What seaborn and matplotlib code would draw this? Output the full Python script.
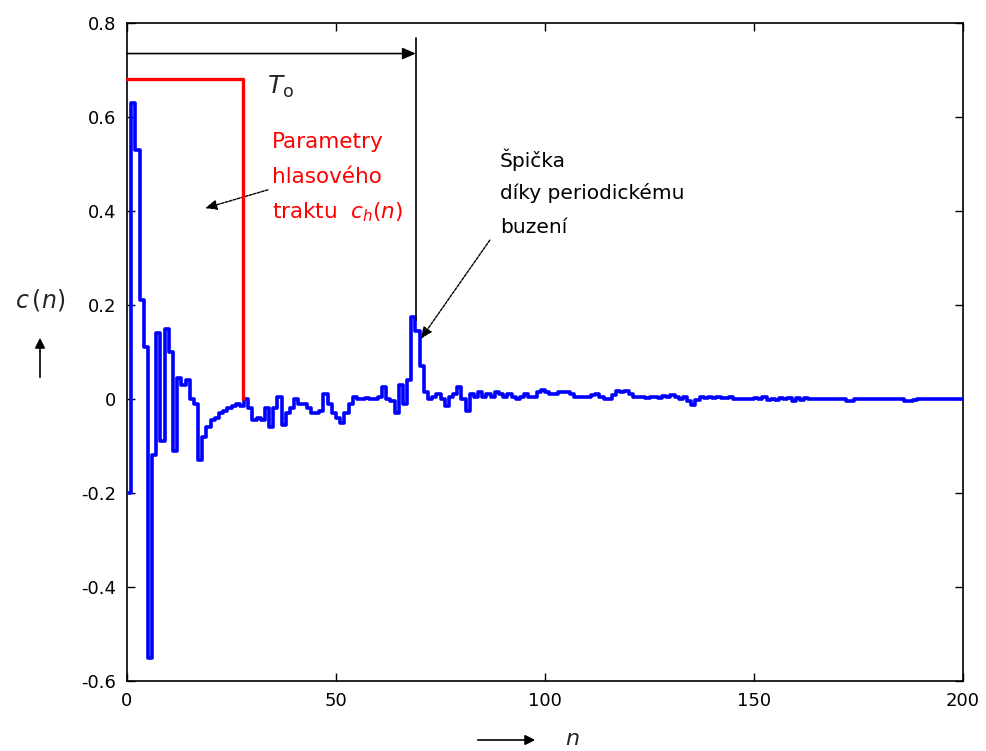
import numpy as np
import pandas as pd
import matplotlib
matplotlib.use("Agg")
import matplotlib.pyplot as plt
import seaborn as sns

# Cepstrum c(n) of a voiced speech frame, sample index n = 0..200
n_idx = list(range(0, 201))
c_vals = [
    -0.20, 0.63, 0.53, 0.21, 0.11, -0.55, -0.12, 0.14, -0.09, 0.15,
    0.10, -0.11, 0.045, 0.03, 0.04, 0.0, -0.01, -0.13, -0.08, -0.06,
    -0.045, -0.04, -0.03, -0.025, -0.02, -0.015, -0.01, -0.015, 0.0, -0.02,
    -0.045, -0.04, -0.045, -0.02, -0.06, -0.02, 0.005, -0.055, -0.03, -0.02,
    0.0, -0.01, -0.01, -0.02, -0.03, -0.03, -0.025, 0.01, -0.01, -0.03,
    -0.04, -0.05, -0.03, -0.01, 0.005, 0.0, 0.0, 0.002, 0.0, 0.0,
    0.005, 0.025, 0.0, -0.005, -0.03, 0.03, -0.01, 0.04, 0.175, 0.145,
    0.07, 0.015, 0.0, 0.005, 0.01, 0.0, -0.015, 0.005, 0.01, 0.025,
    0.0, -0.025, 0.01, 0.005, 0.015, 0.005, 0.01, 0.005, 0.015, 0.01,
    0.005, 0.01, 0.005, 0.0, 0.005, 0.01, 0.005, 0.005, 0.015, 0.02,
    0.015, 0.01, 0.01, 0.015, 0.014, 0.015, 0.01, 0.005, 0.005, 0.005,
    0.005, 0.008, 0.01, 0.005, 0.0, 0.0, 0.008, 0.017, 0.015, 0.017,
    0.01, 0.005, 0.005, 0.005, 0.003, 0.005, 0.005, 0.003, 0.006, 0.005,
    0.008, 0.005, 0.0, 0.005, -0.005, -0.012, -0.002, 0.005, 0.003, 0.005,
    0.002, 0.005, 0.002, 0.002, 0.005, 0.001, 0.001, 0.0, 0.0, 0.0,
    0.002, 0.0, 0.004, -0.002, 0.0, -0.003, 0.003, 0.0, 0.003, -0.004,
    0.003, -0.003, 0.002, 0.0, 0.0, 0.0, 0.0, 0.0, 0.0, 0.0,
    0.0, 0.0, -0.005, -0.004, 0.0, 0.0, 0.0, 0.0, 0.0, 0.0,
    0.0, 0.0, 0.0, 0.0, 0.0, 0.0, -0.004, -0.005, -0.003, 0.0,
    0.0, 0.0, 0.0, 0.0, 0.0, 0.0, 0.0, 0.0, 0.0, 0.0, 0.0,
]

x_ticks = [0, 50, 100, 150, 200]
y_ticks = [-0.6, -0.4, -0.2, 0, 0.2, 0.4, 0.6, 0.8]
y_tick_labels = ["-0.6", "-0.4", "-0.2", "0", "0.2", "0.4", "0.6", "0.8"]

# Vocal-tract window (lifter) and pitch period
lifter_len = 27.8
lifter_level = 0.68
pitch_period = 69.1

sns.set_style("white")
plt.rcParams["font.family"] = ["DejaVu Sans"]
plt.rcParams["mathtext.fontset"] = "dejavusans"

fig = plt.figure(figsize=(9.87, 7.51), dpi=100)
ax = fig.add_axes([127 / 987, 1 - 681 / 751, (963 - 127) / 987, (681 - 23) / 751])

df = pd.DataFrame({"n": n_idx, "c": c_vals})
sns.lineplot(data=df, x="n", y="c", ax=ax, color="#0000ff", linewidth=2.6,
             drawstyle="steps-post", estimator=None, zorder=3)

ax.set_xlim(0, 200)
ax.set_ylim(-0.6, 0.8)
ax.set_xticks(x_ticks)
ax.set_xticklabels([str(t) for t in x_ticks])
ax.set_yticks(y_ticks)
ax.set_yticklabels(y_tick_labels)
ax.set_xlabel("")
ax.set_ylabel("")
ax.tick_params(direction="in", length=6, width=1, top=True, right=True,
               bottom=True, left=True, labelsize=13, colors="black", pad=8)
for sp in ax.spines.values():
    sp.set_color("black")
    sp.set_linewidth(1.2)
    sp.set_visible(True)

# Lifter window for the vocal-tract part
ax.plot([0, lifter_len, lifter_len], [lifter_level, lifter_level, 0.0],
        color="#ff0000", linewidth=2.4, zorder=4, clip_on=False)

# Pitch period marker
ax.plot([pitch_period, pitch_period], [0.768, 0.168], color="black", linewidth=1.2, zorder=4)
ax.annotate("", xy=(pitch_period, 0.735), xytext=(0, 0.735),
            arrowprops=dict(arrowstyle="-|>,head_length=0.8,head_width=0.35",
                            color="black", lw=1.2, shrinkA=0, shrinkB=0))
ax.text(33.5, 0.664, r"$T_{\mathrm{o}}$", fontsize=18, ha="left", va="center")

# Annotation for vocal-tract parameters
red_lines = ["Parametry", "hlasového", r"traktu  $c_h(n)$"]
red_y = [0.547, 0.472, 0.398]
for txt, yy in zip(red_lines, red_y):
    ax.text(34.7, yy, txt, color="#ff0000", fontsize=15.5, ha="left", va="center")
ax.annotate("", xy=(18.7, 0.406), xytext=(33.7, 0.445),
            arrowprops=dict(arrowstyle="-|>,head_length=0.7,head_width=0.3",
                            color="black", lw=1.0, linestyle=(0, (2, 1)),
                            shrinkA=0, shrinkB=0))

# Annotation for the pitch peak
peak_lines = ["Špička", "díky periodickému", "buzení"]
peak_y = [0.509, 0.438, 0.364]
for txt, yy in zip(peak_lines, peak_y):
    ax.text(89.2, yy, txt, color="black", fontsize=14.5, ha="left", va="center")
ax.annotate("", xy=(70.3, 0.128), xytext=(86.8, 0.338),
            arrowprops=dict(arrowstyle="-|>,head_length=0.7,head_width=0.3",
                            color="black", lw=1.0, linestyle=(0, (2, 1)),
                            shrinkA=0, shrinkB=0))

# Axis labels with arrows
fig.text(40 / 987, 1 - 300 / 751, r"$c\,(n)$", fontsize=17, ha="center", va="center")
fig.add_artist(matplotlib.patches.FancyArrowPatch(
    (40 / 987, 1 - 380 / 751), (40 / 987, 1 - 335 / 751),
    transform=fig.transFigure, arrowstyle="-|>,head_length=6,head_width=3",
    color="black", lw=1.2, mutation_scale=1))
fig.add_artist(matplotlib.patches.FancyArrowPatch(
    (475 / 987, 1 - 740 / 751), (538 / 987, 1 - 740 / 751),
    transform=fig.transFigure, arrowstyle="-|>,head_length=6,head_width=3",
    color="black", lw=1.2, mutation_scale=1))
fig.text(572 / 987, 2 / 751, r"$n$", fontsize=16, ha="center", va="bottom")

fig.savefig("out.png", dpi=100)
